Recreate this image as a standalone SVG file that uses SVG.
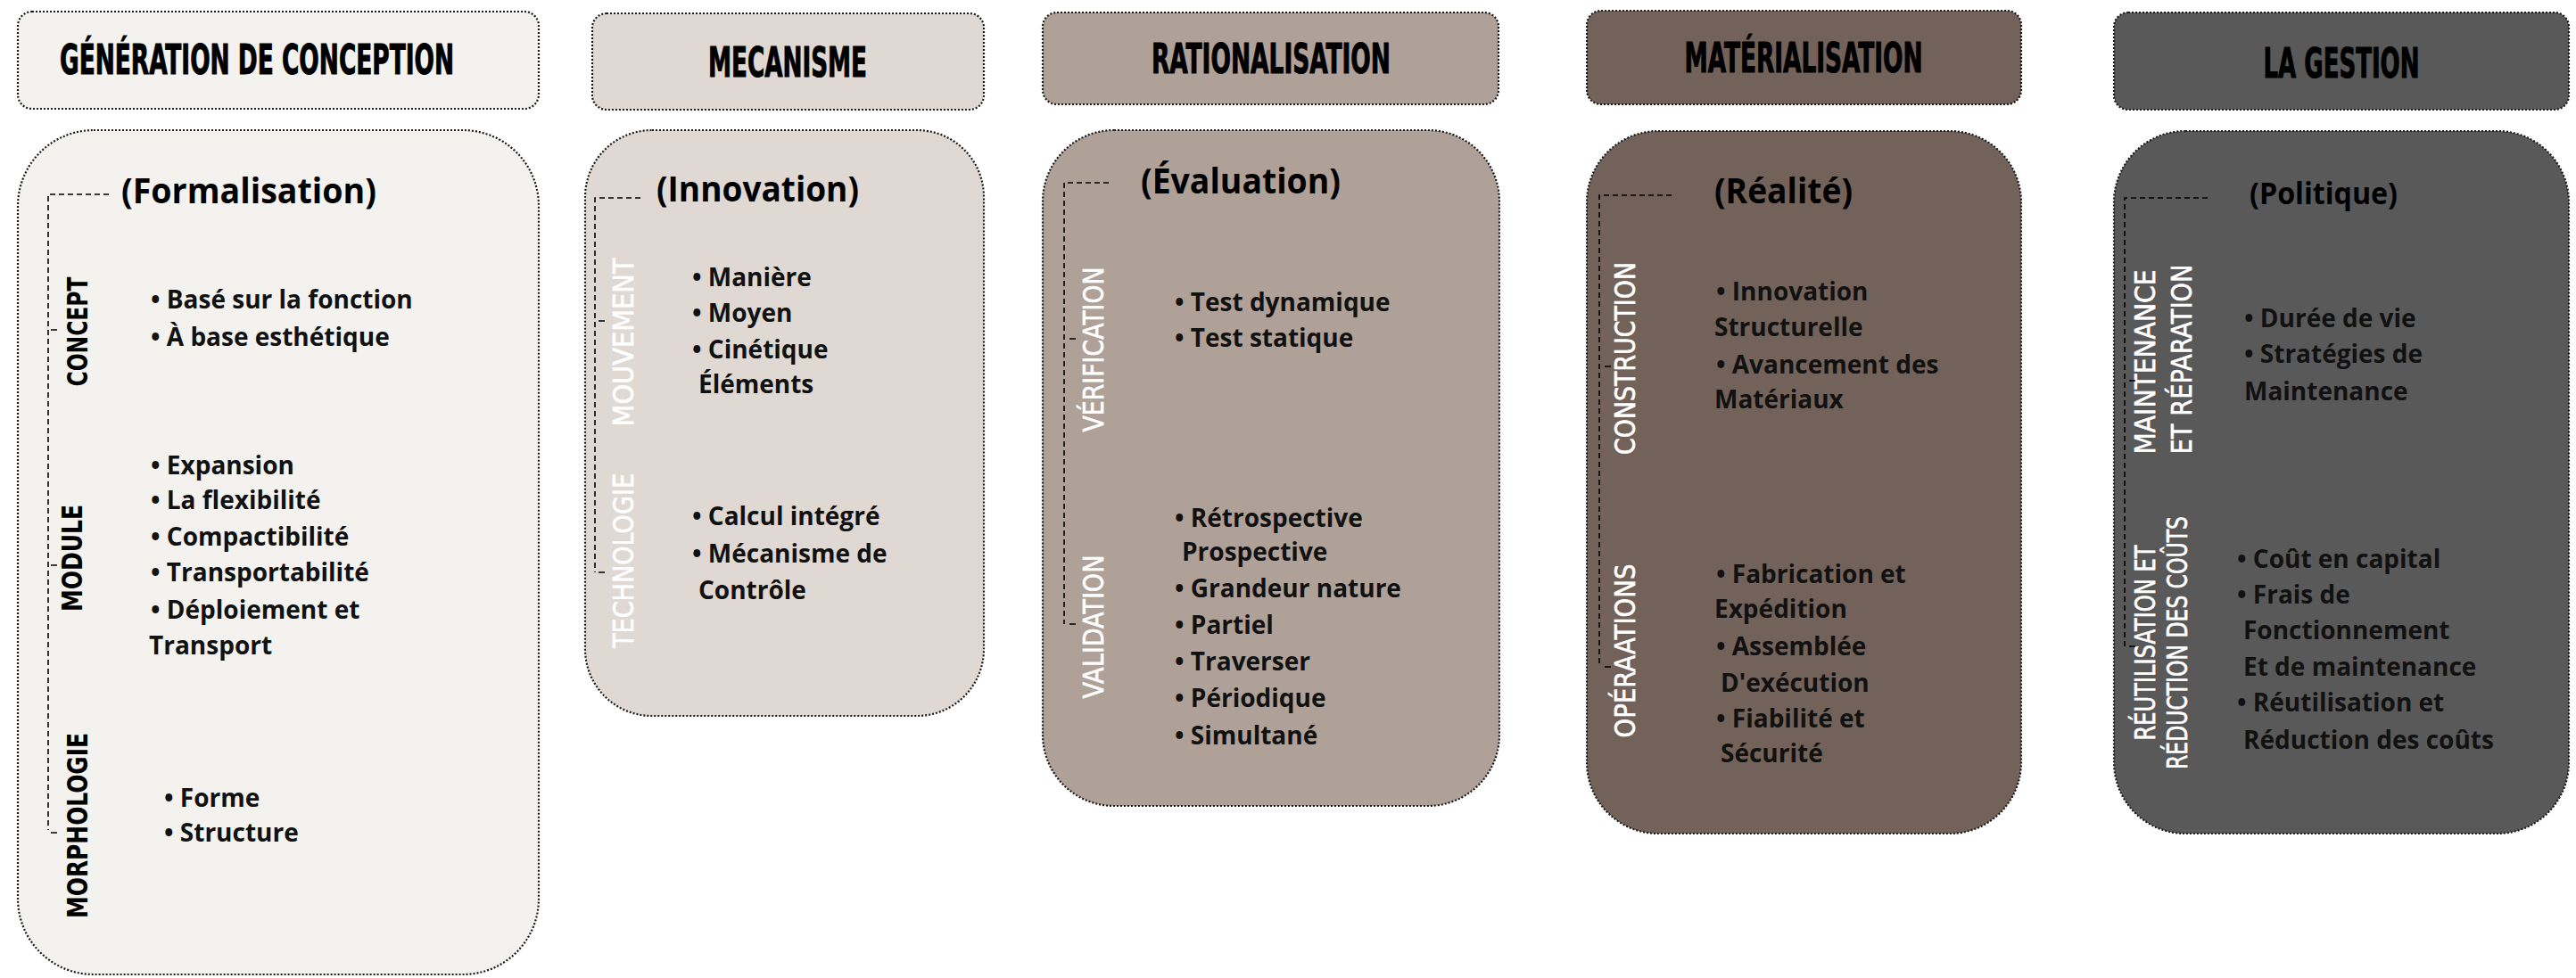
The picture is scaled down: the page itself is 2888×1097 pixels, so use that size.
<svg xmlns="http://www.w3.org/2000/svg" width="2888" height="1097" viewBox="0 0 2888 1097">
<style>
.box{stroke:#1a1a1a;stroke-width:2.2;stroke-dasharray:2 2}
.c1{fill:#f3f2ef}.c2{fill:#e0d9d3}.c3{fill:#b0a198}.c4{fill:#736259}.c5{fill:#595959}
.title{font-family:"DejaVu Sans Condensed","Liberation Sans Narrow",sans-serif;font-weight:bold;font-size:46px;fill:#000;stroke:#000;stroke-width:1;text-anchor:middle}
.sub{font-family:"Open Sans","Noto Sans",sans-serif;font-weight:bold;font-size:39px;fill:#000}
.item{font-family:"Open Sans","Noto Sans",sans-serif;font-weight:bold;font-size:28px;fill:#111}
.vl{font-family:"DejaVu Sans Condensed","Liberation Sans Narrow",sans-serif;font-size:32px;text-anchor:middle}
.blk{fill:#000;font-weight:bold}.wht{fill:#fff;stroke:#fff;stroke-width:0.6}
.brk{fill:none;stroke:#000;stroke-width:1.6;stroke-dasharray:6 4}
.tick{fill:none;stroke:#000;stroke-width:1.6}
</style>

<g id="col1-header">
<rect class="box c1" x="20" y="13" width="584" height="109" rx="16"/>
<text class="title" x="288" y="83" textLength="442" lengthAdjust="spacingAndGlyphs">GÉNÉRATION DE CONCEPTION</text>
</g>
<g id="col1-body">
<rect class="box c1" x="20" y="146" width="584" height="947" rx="85"/>
<text class="sub" x="136" y="228" textLength="286" lengthAdjust="spacingAndGlyphs">(Formalisation)</text>
<text class="vl blk" x="98" y="372" transform="rotate(-90 98 372)" textLength="123" lengthAdjust="spacingAndGlyphs">CONCEPT</text>
<text class="vl blk" x="92" y="626" transform="rotate(-90 92 626)" textLength="120" lengthAdjust="spacingAndGlyphs">MODULE</text>
<text class="vl blk" x="98" y="926" transform="rotate(-90 98 926)" textLength="208" lengthAdjust="spacingAndGlyphs">MORPHOLOGIE</text>
<text class="item" x="169" y="346">• Basé sur la fonction</text>
<text class="item" x="169" y="388">• À base esthétique</text>
<text class="item" x="169" y="532">• Expansion</text>
<text class="item" x="169" y="571">• La flexibilité</text>
<text class="item" x="169" y="612">• Compactibilité</text>
<text class="item" x="169" y="652">• Transportabilité</text>
<text class="item" x="169" y="694">• Déploiement et</text>
<text class="item" x="167" y="734">Transport</text>
<text class="item" x="184" y="905">• Forme</text>
<text class="item" x="184" y="944">• Structure</text>
</g>

<g id="col2-header">
<rect class="box c2" x="664" y="15" width="439" height="108" rx="16"/>
<text class="title" x="883" y="86" textLength="178" lengthAdjust="spacingAndGlyphs">MECANISME</text>
</g>
<g id="col2-body">
<rect class="box c2" x="656" y="146" width="447" height="657" rx="75"/>
<text class="sub" x="736" y="226" textLength="227" lengthAdjust="spacingAndGlyphs">(Innovation)</text>
<text class="vl wht" x="710" y="384" transform="rotate(-90 710 384)" textLength="189" lengthAdjust="spacingAndGlyphs">MOUVEMENT</text>
<text class="vl wht" x="710" y="629" transform="rotate(-90 710 629)" textLength="196" lengthAdjust="spacingAndGlyphs">TECHNOLOGIE</text>
<text class="item" x="776" y="321">• Manière</text>
<text class="item" x="776" y="361">• Moyen</text>
<text class="item" x="776" y="402">• Cinétique</text>
<text class="item" x="783" y="441">Éléments</text>
<text class="item" x="776" y="589">• Calcul intégré</text>
<text class="item" x="776" y="631">• Mécanisme de</text>
<text class="item" x="783" y="672">Contrôle</text>
</g>

<g id="col3-header">
<rect class="box c3" x="1169" y="14" width="511" height="103" rx="16"/>
<text class="title" x="1425" y="82" textLength="268" lengthAdjust="spacingAndGlyphs">RATIONALISATION</text>
</g>
<g id="col3-body">
<rect class="box c3" x="1169" y="146" width="512" height="758" rx="80"/>
<text class="sub" x="1279" y="217" textLength="224" lengthAdjust="spacingAndGlyphs">(Évaluation)</text>
<text class="vl wht" x="1237" y="392" transform="rotate(-90 1237 392)" textLength="185" lengthAdjust="spacingAndGlyphs">VÉRIFICATION</text>
<text class="vl wht" x="1237" y="703" transform="rotate(-90 1237 703)" textLength="161" lengthAdjust="spacingAndGlyphs">VALIDATION</text>
<text class="item" x="1317" y="349">• Test dynamique</text>
<text class="item" x="1317" y="389">• Test statique</text>
<text class="item" x="1317" y="591">• Rétrospective</text>
<text class="item" x="1325" y="629">Prospective</text>
<text class="item" x="1317" y="670">• Grandeur nature</text>
<text class="item" x="1317" y="711">• Partiel</text>
<text class="item" x="1317" y="752">• Traverser</text>
<text class="item" x="1317" y="793">• Périodique</text>
<text class="item" x="1317" y="835">• Simultané</text>
</g>

<g id="col4-header">
<rect class="box c4" x="1779" y="12" width="487" height="105" rx="16"/>
<text class="title" x="2022" y="81" textLength="267" lengthAdjust="spacingAndGlyphs">MATÉRIALISATION</text>
</g>
<g id="col4-body">
<rect class="box c4" x="1779" y="147" width="487" height="788" rx="80"/>
<text class="sub" x="1922" y="228" textLength="155" lengthAdjust="spacingAndGlyphs">(Réalité)</text>
<text class="vl wht" x="1833" y="402" transform="rotate(-90 1833 402)" textLength="216" lengthAdjust="spacingAndGlyphs">CONSTRUCTION</text>
<text class="vl wht" x="1833" y="730" transform="rotate(-90 1833 730)" textLength="195" lengthAdjust="spacingAndGlyphs">OPÉRAATIONS</text>
<text class="item" x="1924" y="337">• Innovation</text>
<text class="item" x="1922" y="377">Structurelle</text>
<text class="item" x="1924" y="419">• Avancement des</text>
<text class="item" x="1922" y="458">Matériaux</text>
<text class="item" x="1924" y="654">• Fabrication et</text>
<text class="item" x="1922" y="693">Expédition</text>
<text class="item" x="1924" y="735">• Assemblée</text>
<text class="item" x="1929" y="776">D'exécution</text>
<text class="item" x="1924" y="816">• Fiabilité et</text>
<text class="item" x="1929" y="855">Sécurité</text>
</g>

<g id="col5-header">
<rect class="box c5" x="2370" y="14" width="510" height="109" rx="16"/>
<text class="title" x="2625" y="87" textLength="175" lengthAdjust="spacingAndGlyphs">LA GESTION</text>
</g>
<g id="col5-body">
<rect class="box c5" x="2370" y="147" width="510" height="788" rx="80"/>
<text class="sub" x="2522" y="229" style="font-size:34px" textLength="166" lengthAdjust="spacingAndGlyphs">(Politique)</text>
<text class="vl wht" x="2416" y="406" transform="rotate(-90 2416 406)" textLength="207" lengthAdjust="spacingAndGlyphs">MAINTENANCE</text>
<text class="vl wht" x="2457" y="403" transform="rotate(-90 2457 403)" textLength="213" lengthAdjust="spacingAndGlyphs">ET RÉPARATION</text>
<text class="vl wht" x="2416" y="721" transform="rotate(-90 2416 721)" textLength="219" lengthAdjust="spacingAndGlyphs">RÉUTILISATION ET</text>
<text class="vl wht" x="2452" y="721" transform="rotate(-90 2452 721)" textLength="284" lengthAdjust="spacingAndGlyphs">RÉDUCTION DES COÛTS</text>
<text class="item" x="2516" y="367">• Durée de vie</text>
<text class="item" x="2516" y="407">• Stratégies de</text>
<text class="item" x="2516" y="449">Maintenance</text>
<text class="item" x="2508" y="637">• Coût en capital</text>
<text class="item" x="2508" y="677">• Frais de</text>
<text class="item" x="2515" y="717">Fonctionnement</text>
<text class="item" x="2515" y="758">Et de maintenance</text>
<text class="item" x="2508" y="798">• Réutilisation et</text>
<text class="item" x="2515" y="840">Réduction des coûts</text>
</g>

<g id="connectors">
<path class="brk" d="M122 218 H54 V931"/>
<path class="tick" d="M57 370 h7 M57 634 h7 M57 934 h7"/>
<path class="brk" d="M718 222 H667 V642"/>
<path class="tick" d="M671 360 h7 M671 642 h7"/>
<path class="brk" d="M1243 205 H1193 V700"/>
<path class="tick" d="M1199 380 h7 M1199 700 h7"/>
<path class="brk" d="M1874 219 H1793 V748"/>
<path class="tick" d="M1799 411 h7 M1799 748 h7"/>
<path class="brk" d="M2475 222 H2382 V725"/>
<path class="tick" d="M2387 427 h7 M2387 725 h7"/>
</g>
</svg>
